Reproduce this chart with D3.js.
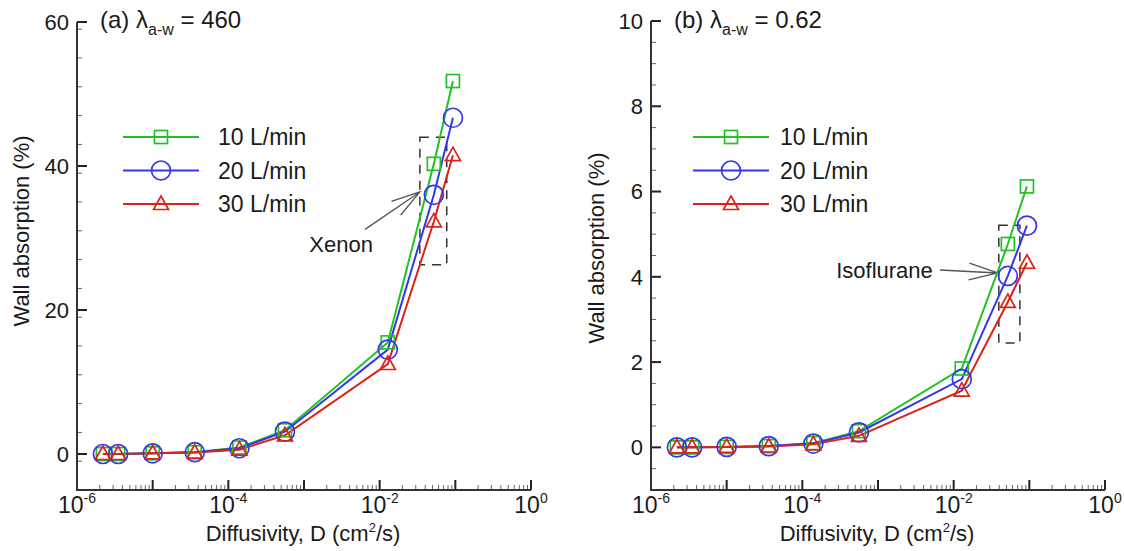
<!DOCTYPE html>
<html>
<head>
<meta charset="utf-8">
<style>
  body { margin: 0; background: #fff; }
  svg { display: block; }
  text { font-family: Arial, "Liberation Sans", sans-serif; fill: #1a1a1a; }
</style>
</head>
<body>
<svg width="1124" height="551"></svg>
<script src="https://cdnjs.cloudflare.com/ajax/libs/d3/7.8.5/d3.min.js"></script>
<script>
// diffusivity values (cm2/s), shared by both panels
var diffusivity = [2.2e-6, 3.5e-6, 1.0e-5, 3.6e-5, 1.4e-4, 5.6e-4, 1.28e-2, 5.2e-2, 9.3e-2];

var flowLabels = ["10 L/min", "20 L/min", "30 L/min"];

// (a) xenon, wall absorption (%)
var xenon10 = [0, 0, 0.1, 0.25, 0.9, 3.3, 15.5, 40.3, 51.8];
var xenon20 = [0, 0, 0.1, 0.25, 0.8, 3.1, 14.5, 36.0, 46.7];
var xenon30 = [0, 0, 0.1, 0.2, 0.6, 2.6, 12.5, 32.3, 41.5];

// (b) isoflurane, wall absorption (%)
var iso10 = [0, 0, 0.01, 0.03, 0.1, 0.38, 1.85, 4.77, 6.12];
var iso20 = [0, 0, 0.01, 0.03, 0.09, 0.35, 1.6, 4.02, 5.2];
var iso30 = [0, 0, 0.01, 0.02, 0.07, 0.27, 1.33, 3.41, 4.33];

var xTickLabels = ["-6", "-4", "-2", "0"];
var yTicksA = [0, 20, 40, 60];
var yTicksB = [0, 2, 4, 6, 8, 10];

var colors = ["#22c222", "#3535f2", "#db2417"];
var shapes = ["square", "circle", "triangle"];

var svg = d3.select("svg");

function marker(g, shape, color) {
  if (shape == "square") {
    g.append("rect").attr("x", -6.5).attr("y", -6.5).attr("width", 13).attr("height", 13)
      .attr("fill", "none").attr("stroke", color).attr("stroke-width", 1.7);
  } else if (shape == "circle") {
    g.append("circle").attr("r", 9.5)
      .attr("fill", "none").attr("stroke", color).attr("stroke-width", 1.7);
  } else {
    g.append("path").attr("d", "M0,-8L7.5,5.5L-7.5,5.5Z")
      .attr("fill", "none").attr("stroke", color).attr("stroke-width", 1.7);
  }
}

function panel(opt) {
  var x = d3.scaleLog().domain([1e-6, 1]).range([opt.left, opt.left + 454]);
  var y = d3.scaleLinear().domain(opt.yDomain).range([490, opt.top]);
  var g = svg.append("g");

  // minor ticks
  var xMinor = [];
  for (var e = -6; e < 0; e++) for (var k = 2; k <= 9; k++) xMinor.push(k * Math.pow(10, e));
  g.selectAll(".xminor").data(xMinor).enter().append("line")
    .attr("x1", x).attr("x2", x).attr("y1", 490).attr("y2", 485)
    .attr("stroke", "#666").attr("stroke-width", 1);
  g.selectAll(".xmajor").data(d3.range(-5, 1)).enter().append("line")
    .attr("x1", function(d) { return x(Math.pow(10, d)); })
    .attr("x2", function(d) { return x(Math.pow(10, d)); })
    .attr("y1", 490).attr("y2", 480)
    .attr("stroke", "#222").attr("stroke-width", 2);

  var yMinor = d3.range(opt.yDomain[0], opt.yDomain[1] + 1e-9, opt.minorStep)
    .filter(function(v) { return Math.abs(v / opt.majorStep - Math.round(v / opt.majorStep)) > 1e-6; });
  g.selectAll(".yminor").data(yMinor).enter().append("line")
    .attr("x1", opt.left).attr("x2", opt.left + 5)
    .attr("y1", y).attr("y2", y)
    .attr("stroke", "#666").attr("stroke-width", 1);
  g.selectAll(".ymajor").data(opt.yTicks).enter().append("line")
    .attr("x1", opt.left).attr("x2", opt.left + 10)
    .attr("y1", y).attr("y2", y)
    .attr("stroke", "#222").attr("stroke-width", 2);

  // axis lines
  g.append("path")
    .attr("d", "M" + opt.left + "," + y(opt.yDomain[1]) + "V490H" + (opt.left + 454))
    .attr("fill", "none").attr("stroke", "#333").attr("stroke-width", 2);

  // tick labels
  g.selectAll(".ylab").data(opt.yTicks).enter().append("text")
    .attr("x", opt.left - 8).attr("y", y).attr("dy", "0.36em")
    .attr("text-anchor", "end").attr("font-size", 22)
    .text(function(d) { return d; });

  var xl = g.selectAll(".xlab").data(xTickLabels).enter().append("text")
    .attr("x", function(d) { return x(Math.pow(10, +d)); })
    .attr("y", 513).attr("text-anchor", "middle").attr("font-size", 23);
  xl.append("tspan").text("10");
  xl.append("tspan").attr("dy", -10).attr("font-size", 14).text(function(d) { return d; });

  // axis titles
  var xt = g.append("text").attr("x", opt.left + 226).attr("y", 541)
    .attr("text-anchor", "middle").attr("font-size", 22);
  xt.append("tspan").text("Diffusivity, D (cm");
  xt.append("tspan").attr("dy", -9).attr("font-size", 13).text("2");
  xt.append("tspan").attr("dy", 9).text("/s)");

  g.append("text")
    .attr("transform", "translate(" + opt.yTitleX + "," + opt.yTitleY + ")rotate(-90)")
    .attr("text-anchor", "middle").attr("font-size", 22)
    .text("Wall absorption (%)");

  // panel title
  var tt = g.append("text").attr("x", opt.left + 23).attr("y", 28).attr("font-size", 24);
  tt.append("tspan").text(opt.tag + " \u03bb");
  tt.append("tspan").attr("dy", 7).attr("font-size", 16).text("a-w");
  tt.append("tspan").attr("dy", -7).text(" = " + opt.lambda);

  // annotation box and arrow
  var a = opt.note;
  g.append("rect")
    .attr("x", x(a.box[0])).attr("y", y(a.box[3]))
    .attr("width", x(a.box[1]) - x(a.box[0])).attr("height", y(a.box[2]) - y(a.box[3]))
    .attr("fill", "none").attr("stroke", "#333").attr("stroke-width", 1.5)
    .attr("stroke-dasharray", "9,7");
  var x0 = x(a.from[0]), y0 = y(a.from[1]), x1 = x(a.to[0]), y1 = y(a.to[1]);
  var ang = Math.atan2(y1 - y0, x1 - x0), len = 30, spread = 0.28;
  g.append("path")
    .attr("d", "M" + x0 + "," + y0 + "L" + x1 + "," + y1 +
      "M" + (x1 - len * Math.cos(ang - spread)) + "," + (y1 - len * Math.sin(ang - spread)) +
      "L" + x1 + "," + y1 +
      "L" + (x1 - len * Math.cos(ang + spread)) + "," + (y1 - len * Math.sin(ang + spread)))
    .attr("fill", "none").attr("stroke", "#555").attr("stroke-width", 1.3);
  g.append("text").attr("x", x(a.text[0])).attr("y", y(a.text[1]))
    .attr("text-anchor", a.anchor).attr("font-size", 22).text(a.label);

  // series
  var line = d3.line()
    .x(function(d) { return x(d[0]); })
    .y(function(d) { return y(d[1]); });
  opt.series.forEach(function(vals, i) {
    var pts = vals.map(function(v, j) { return [diffusivity[j], v]; });
    g.append("path").datum(pts).attr("d", line)
      .attr("fill", "none").attr("stroke", colors[i]).attr("stroke-width", 2);
  });
  opt.series.forEach(function(vals, i) {
    vals.forEach(function(v, j) {
      var m = g.append("g").attr("transform", "translate(" + x(diffusivity[j]) + "," + y(v) + ")");
      marker(m, shapes[i], colors[i]);
    });
  });

  // legend
  flowLabels.forEach(function(lab, i) {
    var ly = 137 + i * 33.5;
    var lg = g.append("g").attr("transform", "translate(" + opt.legendX + "," + ly + ")");
    lg.append("line").attr("x1", 0).attr("x2", 76)
      .attr("stroke", colors[i]).attr("stroke-width", 2);
    var m = lg.append("g").attr("transform", "translate(38,0)");
    marker(m, shapes[i], colors[i]);
    lg.append("text").attr("x", opt.legendTextX).attr("dy", "0.36em")
      .attr("font-size", 23).text(lab);
  });
}

panel({
  left: 77, top: 22, yDomain: [-5, 60], yTicks: yTicksA, majorStep: 20, minorStep: 4,
  tag: "(a)", lambda: "460",
  series: [xenon10, xenon20, xenon30],
  yTitleX: 29, yTitleY: 231, legendX: 123, legendTextX: 95,
  note: { box: [0.034, 0.077, 26.3, 44], from: [0.0064, 31.2], to: [0.034, 36.4],
          text: [0.0031, 28.1], anchor: "middle", label: "Xenon" }
});

panel({
  left: 651, top: 21, yDomain: [-1, 10], yTicks: yTicksB, majorStep: 2, minorStep: 0.5,
  tag: "(b)", lambda: "0.62",
  series: [iso10, iso20, iso30],
  yTitleX: 604, yTitleY: 248, legendX: 693, legendTextX: 87,
  note: { box: [0.0395, 0.075, 2.45, 5.21], from: [0.0066, 4.16], to: [0.0383, 4.09],
          text: [0.0053, 3.97], anchor: "end", label: "Isoflurane" }
});
</script>
</body>
</html>
